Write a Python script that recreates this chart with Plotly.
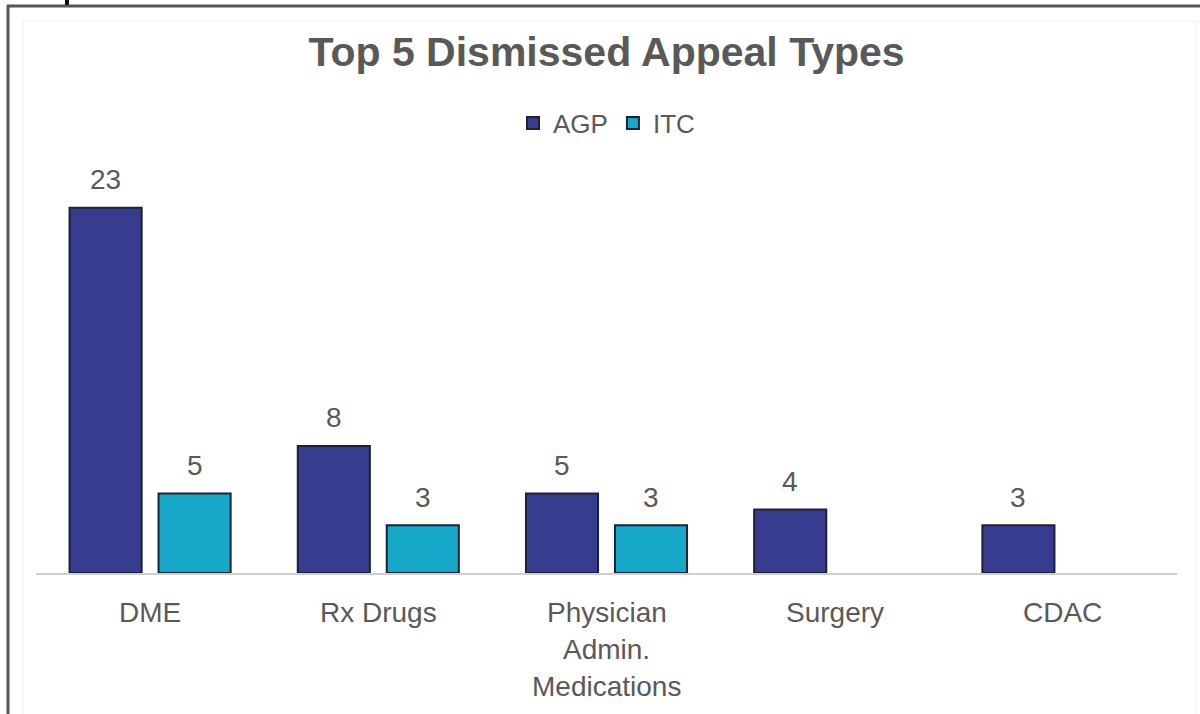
import plotly.graph_objects as go

# Chart data
categories = ["DME", "Rx Drugs", "Physician<br>Admin.<br>Medications", "Surgery", "CDAC"]
agp_values = [23, 8, 5, 4, 3]
itc_values = [5, 3, 3, None, None]
series_names = ["AGP", "ITC"]

# Styling / layout constants
W, H = 1200, 714
M_L, M_R, M_T, M_B = 36, 23, 176, 141
TEXT = "#595959"
FONT = "Liberation Sans, Arial, sans-serif"
AGP_COLOR = "#383c8e"
ITC_COLOR = "#17a7c9"
EDGE = "#1c2236"
BARGAP = 0.22
BARGROUPGAP = 0.19
Y_MAX = 25

plot_w = W - M_L - M_R
plot_h = H - M_T - M_B


def px_x(px):
    return (px - M_L) / plot_w


def px_y(py):
    return (H - M_B - py) / plot_h


fig = go.Figure()
for name, vals, color in [(series_names[0], agp_values, AGP_COLOR),
                          (series_names[1], itc_values, ITC_COLOR)]:
    fig.add_trace(go.Bar(
        name=name, x=list(range(len(categories))), y=vals,
        marker=dict(color=color, line=dict(color=EDGE, width=2)),
        hoverinfo="x+y",
    ))

# Value labels above each bar
cat_px = plot_w / len(categories)
slot_px = cat_px * (1 - BARGAP) / 2
annotations = []
for s, vals in enumerate([agp_values, itc_values]):
    shift = (s - 0.5) * slot_px
    for i, v in enumerate(vals):
        if v is None:
            continue
        annotations.append(dict(
            x=i, y=v, xref="x", yref="y", text=str(v), showarrow=False,
            xshift=shift, yshift=28, yanchor="middle",
            font=dict(family=FONT, size=28, color=TEXT),
        ))

# Category labels under the axis (multi-line with wider spacing)
for i, label in enumerate(categories):
    for j, line in enumerate(label.split("<br>")):
        annotations.append(dict(
            x=i, y=0, xref="x", yref="y", text=line, showarrow=False,
            yshift=-39 - 37 * j, yanchor="middle",
            font=dict(family=FONT, size=28, color=TEXT),
        ))

# Outer frame and faint inner border
shapes = [
    dict(type="line", xref="paper", yref="paper",
         x0=px_x(8), x1=px_x(8), y0=px_y(5), y1=px_y(H + 5),
         line=dict(color="#555555", width=3)),
    dict(type="line", xref="paper", yref="paper",
         x0=px_x(7), x1=px_x(W + 5), y0=px_y(6), y1=px_y(6),
         line=dict(color="#555555", width=3)),
    dict(type="line", xref="paper", yref="paper",
         x0=px_x(67), x1=px_x(67), y0=px_y(-2), y1=px_y(5),
         line=dict(color="#111111", width=4)),
    dict(type="rect", xref="paper", yref="paper",
         x0=px_x(23), x1=px_x(1196), y0=px_y(21), y1=px_y(H + 10),
         line=dict(color="#efefef", width=1)),
]

fig.update_layout(
    width=W, height=H,
    margin=dict(l=M_L, r=M_R, t=M_T, b=M_B, autoexpand=False),
    paper_bgcolor="white", plot_bgcolor="white",
    barmode="group", bargap=BARGAP, bargroupgap=BARGROUPGAP,
    title=dict(text="<b>Top 5 Dismissed Appeal Types</b>",
               x=0.5, xref="paper", xanchor="center",
               y=1 - 52 / H, yanchor="middle",
               font=dict(family=FONT, size=41, color=TEXT)),
    legend=dict(orientation="h", x=0.5, xanchor="center",
                y=px_y(123), yanchor="middle",
                font=dict(family=FONT, size=26, color=TEXT),
                itemwidth=30, bgcolor="rgba(0,0,0,0)"),
    xaxis=dict(range=[-0.5, len(categories) - 0.5], showticklabels=False,
               showgrid=False, zeroline=False, showline=True,
               linecolor="#cfcfcf", linewidth=2, ticks=""),
    yaxis=dict(range=[0, Y_MAX], visible=False, showgrid=False, zeroline=False),
    annotations=annotations,
    shapes=shapes,
    showlegend=True,
)

fig.write_html("out.html")
